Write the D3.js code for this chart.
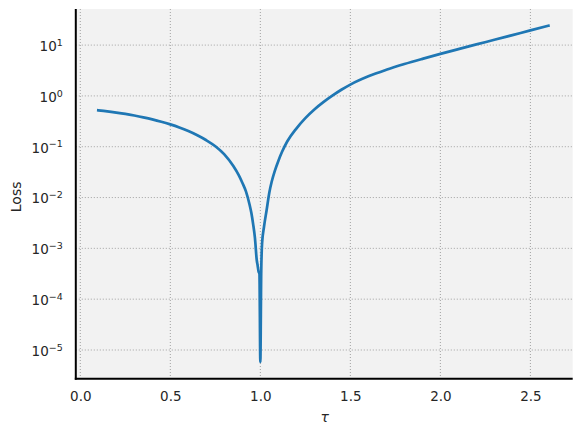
<!DOCTYPE html>
<html>
<head>
<meta charset="utf-8">
<script src="https://cdn.jsdelivr.net/npm/d3@7"></script>
<style>
  body { margin: 0; background: #fff; }
  text { font-family: "DejaVu Sans", sans-serif; fill: #262626; }
  .grid line { stroke: #999; stroke-width: 0.9; stroke-dasharray: 1,2; }
</style>
</head>
<body>
<div class="chart"></div>
<script>
var width = 581,
    height = 435;

// values
var tau = [0.1, 0.15, 0.2, 0.25, 0.3, 0.35, 0.4, 0.45, 0.5, 0.55, 0.6, 0.65, 0.7, 0.75, 0.8, 0.85, 0.88, 0.9, 0.92,
           0.94, 0.95, 0.96, 0.97, 0.98, 0.985, 0.99, 0.995, 1.0, 1.005, 1.01, 1.02,
           1.035, 1.05, 1.063, 1.08, 1.1, 1.12, 1.15, 1.2, 1.25, 1.3, 1.35, 1.4, 1.45, 1.5,
           1.6, 1.7, 1.8, 1.9, 2.0, 2.1, 2.2, 2.3, 2.4, 2.5, 2.6];
var loss = [0.52, 0.497, 0.47, 0.442, 0.411, 0.379, 0.346, 0.311, 0.275, 0.239, 0.203, 0.168, 0.134, 0.102, 0.0706, 0.0416, 0.0275, 0.0195, 0.0132,
            0.0073, 0.005, 0.003, 0.0016, 5.9e-4, 4.6e-4, 3.5e-4, 3.2e-4, 5.8e-6, 3.6e-4, 1.3e-3, 2.6e-3,
            5.7e-3, 0.0126, 0.0204, 0.0331, 0.0525, 0.0785, 0.128, 0.2275, 0.365, 0.54, 0.753, 1.01, 1.32, 1.67,
            2.43, 3.27, 4.24, 5.36, 6.7, 8.32, 10.3, 12.7, 15.7, 19.45, 24.0];
var xTicks = [0, 0.5, 1.0, 1.5, 2.0, 2.5];
var yExps = [-5, -4, -3, -2, -1, 0, 1];

var pLeft = 75.8, pRight = 572.7, pTop = 9, pBottom = 378.7;

var x = d3.scaleLinear()
    .domain([-0.025, 2.735])
    .range([pLeft, pRight]);

var y = d3.scaleLog()
    .domain([Math.pow(10, -5.565), Math.pow(10, 1.71)])
    .range([pBottom, pTop]);

var svg = d3.select(".chart").append("svg")
    .attr("width", width)
    .attr("height", height);

svg.append("rect")
    .attr("x", pLeft).attr("y", pTop)
    .attr("width", pRight - pLeft).attr("height", pBottom - pTop)
    .attr("fill", "#f2f2f2");

//grid
svg.append("g").attr("class", "grid")
  .selectAll("line").data(xTicks).enter().append("line")
    .attr("x1", function(d) { return x(d); })
    .attr("x2", function(d) { return x(d); })
    .attr("y1", pTop).attr("y2", pBottom);

svg.append("g").attr("class", "grid")
  .selectAll("line").data(yExps).enter().append("line")
    .attr("y1", function(d) { return y(Math.pow(10, d)); })
    .attr("y2", function(d) { return y(Math.pow(10, d)); })
    .attr("x1", pLeft).attr("x2", pRight);

//loss curve
var line = d3.line()
    .x(function(d, i) { return x(tau[i]); })
    .y(function(d) { return y(d); })
    .curve(d3.curveMonotoneX);

svg.append("path")
    .attr("d", line(loss))
    .attr("fill", "none")
    .attr("stroke", "#1f77b4")
    .attr("stroke-width", 2.7)
    .attr("stroke-linejoin", "round")
    .attr("stroke-linecap", "square");

//axes
var xAxis = svg.append("g")
    .attr("transform", "translate(0," + pBottom + ")")
    .call(d3.axisBottom(x).tickValues(xTicks).tickSize(0).tickPadding(13)
      .tickFormat(d3.format(".1f")));
xAxis.select(".domain").remove();
xAxis.attr("font-size", null).attr("font-family", null);
xAxis.selectAll("text").attr("font-size", 13.5).attr("fill", "#262626");

var yAxis = svg.append("g")
    .attr("transform", "translate(" + pLeft + ",0)")
    .call(d3.axisLeft(y).tickValues(yExps.map(function(e) { return Math.pow(10, e); }))
      .tickSize(0).tickPadding(13).tickFormat(""));
yAxis.select(".domain").remove();
yAxis.attr("font-size", null).attr("font-family", null);
yAxis.selectAll(".tick text")
    .attr("font-size", 13.5)
    .attr("fill", "#262626")
    .attr("dy", "0.4em")
    .each(function(d) {
      var t = d3.select(this);
      var e = Math.round(Math.log10(d));
      t.append("tspan").text("10");
      t.append("tspan")
        .attr("font-size", 9.5)
        .attr("dy", "-0.55em")
        .text(e < 0 ? "\u2212" + (-e) : e);
    });

//spines
svg.append("line")
    .attr("x1", pLeft).attr("x2", pLeft).attr("y1", pTop).attr("y2", pBottom + 1)
    .attr("stroke", "#000").attr("stroke-width", 2);
svg.append("line")
    .attr("x1", pLeft - 1).attr("x2", pRight).attr("y1", pBottom).attr("y2", pBottom)
    .attr("stroke", "#000").attr("stroke-width", 2);

//labels
svg.append("text")
    .attr("x", (pLeft + pRight) / 2 + 0.5)
    .attr("y", 422)
    .attr("text-anchor", "middle")
    .attr("font-size", 14)
    .attr("font-style", "italic")
    .text("\u03c4");

svg.append("text")
    .attr("transform", "translate(21," + ((pTop + pBottom) / 2 + 3) + ") rotate(-90)")
    .attr("text-anchor", "middle")
    .attr("font-size", 14)
    .text("Loss");
</script>
</body>
</html>
